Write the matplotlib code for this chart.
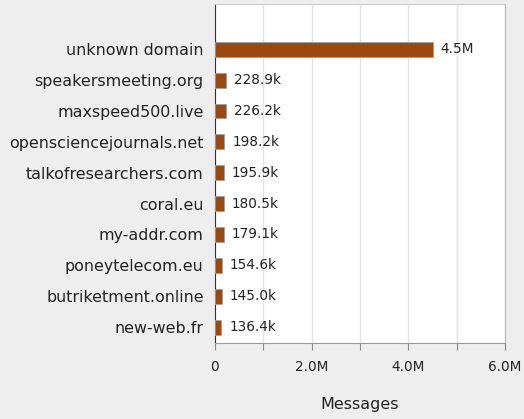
import numpy as np
import matplotlib.pyplot as plt
from matplotlib.ticker import FixedLocator, FuncFormatter

domains = ["unknown domain", "speakersmeeting.org", "maxspeed500.live",
           "opensciencejournals.net", "talkofresearchers.com", "coral.eu",
           "my-addr.com", "poneytelecom.eu", "butriketment.online", "new-web.fr"]
messages = [4510000, 228900, 226200, 198200, 195900, 180500, 179100, 154600, 145000, 136400]
labels = ["4.5M", "228.9k", "226.2k", "198.2k", "195.9k", "180.5k",
          "179.1k", "154.6k", "145.0k", "136.4k"]

fig = plt.figure(figsize=(5.24, 4.19), dpi=100, facecolor="#eeeeee")
ax = fig.add_axes([0.410, 0.181, 0.554, 0.809])

y = np.arange(len(domains))
ax.barh(y, messages, height=0.48, color="#9a4a10", edgecolor="#a0a0a0", linewidth=0.6, zorder=3)
for yi, v, lab in zip(y, messages, labels):
    ax.text(v + 160000, yi, lab, va="center", ha="left", fontsize=9.8, color="#222222")

ax.set_ylim(len(domains) - 0.48, -1.46)
ax.set_yticks(y)
ax.set_yticklabels(domains, fontsize=11.4, color="#222222")
ax.tick_params(axis="y", length=0, pad=8)

ax.set_xlim(0, 6000000)
ax.xaxis.set_major_locator(FixedLocator(np.arange(0, 6000001, 1000000)))
ax.xaxis.set_major_formatter(FuncFormatter(
    lambda v, p: "0" if v == 0 else (f"{v/1e6:.1f}M" if int(round(v / 1e6)) % 2 == 0 else "")))
ax.tick_params(axis="x", length=5, color="#888888", labelsize=9.8, pad=7, labelcolor="#222222")
ax.grid(axis="x", color="#e4e4e4", linewidth=1, zorder=0)

ax.spines["left"].set_color("#333333")
ax.spines["bottom"].set_color("#999999")
ax.spines["top"].set_color("#cccccc")
ax.spines["right"].set_color("#bbbbbb")

ax.set_xlabel("Messages", fontsize=11.5, labelpad=17, color="#222222")

plt.savefig("out.png", dpi=100, facecolor=fig.get_facecolor())
